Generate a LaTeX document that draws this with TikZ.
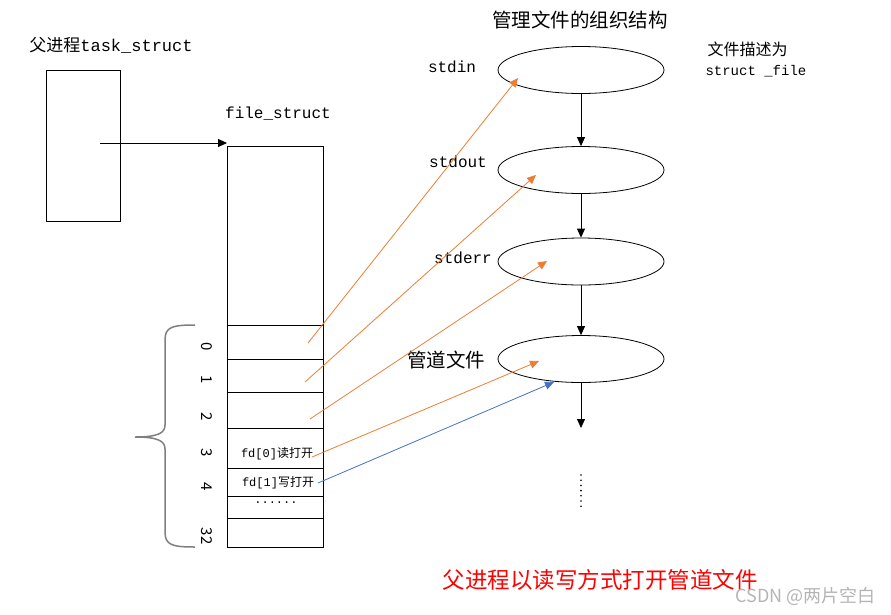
\documentclass[tikz,border=0pt]{standalone}
\usepackage{fontspec}
\setmainfont{Noto Sans CJK SC}
\setmonofont{Liberation Mono}
\usetikzlibrary{arrows.meta,positioning,calc,shapes.geometric}
\definecolor{PPOrange}{HTML}{ED7D31}
\definecolor{PPBlue}{HTML}{4472C4}
\definecolor{PPRed}{HTML}{FF0000}
\definecolor{PPGray}{HTML}{7F7F7F}
\definecolor{PPMark}{HTML}{B4B4B4}
\tikzset{
  ptr/.style={-{Triangle[length=9,width=8]},black,line width=0.8pt},
  ptrorange/.style={-{Triangle[length=9,width=8]},PPOrange,line width=0.8pt},
  ptrblue/.style={-{Triangle[length=9,width=8]},PPBlue,line width=0.8pt},
  cell/.style={draw=black,line width=0.8pt,rectangle,inner sep=0pt,outer sep=0pt},
  fileobj/.style={draw=black,line width=0.8pt,ellipse,minimum width=166,minimum height=47,inner sep=0pt},
  caption/.style={font=\fontsize{17}{20}\selectfont,anchor=center},
  tlabel/.style={font=\ttfamily\fontsize{16}{19}\selectfont},
  fdtext/.style={font=\fontsize{12}{14}\selectfont},
  idx/.style={font=\fontsize{15}{17}\selectfont,rotate=-90},
  brace/.style={draw=PPGray,line width=1.5pt},
}
\begin{document}
\begin{tikzpicture}[x=1pt,y=-1pt]
  \useasboundingbox (0,0) rectangle (891,614);

  \node[caption] (tasklbl) at (111,45) {父进程{\ttfamily task\_struct}};
  \node[cell,minimum width=74,minimum height=151] (task) at (83,145.5) {};

  \node[tlabel] (fslbl) at (278,114) {file\_struct};
  \node[cell,minimum width=96,minimum height=179] (fstop) at (275,235.5) {};
  \node[cell,minimum width=96,minimum height=34,below=0pt of fstop] (slot0) {};
  \node[cell,minimum width=96,minimum height=33,below=0pt of slot0] (slot1) {};
  \node[cell,minimum width=96,minimum height=36,below=0pt of slot1] (slot2) {};
  \node[cell,minimum width=96,minimum height=40,below=0pt of slot2] (slot3) {};
  \node[cell,minimum width=96,minimum height=28,below=0pt of slot3] (slot4) {};
  \node[cell,minimum width=96,minimum height=22,below=0pt of slot4] (slotdots) {};
  \node[cell,minimum width=96,minimum height=29,below=0pt of slotdots] (slot32) {};

  \node[fdtext] (fd0) at (277,454) {{\ttfamily fd[0]}读打开};
  \node[fdtext] (fd1) at (278,483) {{\ttfamily fd[1]}写打开};
  \node[fdtext] (fddots) at (276,503) {\ttfamily ......};

  \node[idx] (n0) at (207,347) {0};
  \node[idx] (n1) at (207,380) {1};
  \node[idx] (n2) at (207,417) {2};
  \node[idx] (n3) at (207,453) {3};
  \node[idx] (n4) at (207,487) {4};
  \node[idx] (n32) at (207,536) {32};

  \draw[brace] (195,325) .. controls (172,325) and (165,327) .. (165,340) -- (165,425)
    .. controls (165,433) and (158,437) .. (135,437)
    .. controls (158,437) and (165,441) .. (165,449) -- (165,532)
    .. controls (165,545) and (172,547) .. (195,547);

  \coordinate (taskptr) at (100,143);
  \draw[ptr] (taskptr) -- (taskptr -| fstop.west);

  \node[caption,font=\fontsize{19.5}{22}\selectfont] (title) at (580,20) {管理文件的组织结构};
  \node[font=\fontsize{16}{19}\selectfont,anchor=west] (desc1) at (704,49) {文件描述为};
  \node[font=\ttfamily\fontsize{14}{17}\selectfont,anchor=west] (desc2) at (702,71) {struct \_file};

  \node[fileobj] (stdin) at (581,70) {};
  \node[fileobj] (stdout) at (581,170) {};
  \node[fileobj] (stderr) at (581,261.5) {};
  \node[fileobj] (pipe) at (581,359) {};
  \coordinate (more) at (581,428);

  \node[tlabel] (stdinlbl) at (452,67) {stdin};
  \node[tlabel] (stdoutlbl) at (458,162) {stdout};
  \node[tlabel] (stderrlbl) at (463,258) {stderr};
  \node[caption,font=\fontsize{19.5}{22}\selectfont] (pipelbl) at (446,360) {管道文件};

  \draw[ptr] (stdin) -- (stdout);
  \draw[ptr] (stdout) -- (stderr);
  \draw[ptr] (stderr) -- (pipe);
  \draw[ptr] (pipe) -- (more);
  \foreach \k in {0,...,6}
    \fill (581,475+5.2*\k) circle (0.9);

  \coordinate (s0) at (308,343);
  \coordinate (s1) at (305,382);
  \coordinate (s2) at (310,419);
  \coordinate (s3) at (312,457);
  \coordinate (s4) at (318,483);
  \coordinate (t0) at (518,78);
  \coordinate (t1) at (536,175);
  \coordinate (t2) at (547,261);
  \coordinate (t3) at (539,361);
  \coordinate (t4) at (554,382);
  \draw[ptrorange] (s0) -- (t0);
  \draw[ptrorange] (s1) -- (t1);
  \draw[ptrorange] (s2) -- (t2);
  \draw[ptrorange] (s3) -- (t3);
  \draw[ptrblue] (s4) -- (t4);

  \node[text=PPRed,font=\fontsize{22.5}{26}\selectfont] (note) at (600,580) {父进程以读写方式打开管道文件};
  \node[text=PPMark,font=\fontsize{18}{21}\selectfont,anchor=east] (mark) at (879,596) {CSDN @两片空白};
\end{tikzpicture}
\end{document}
